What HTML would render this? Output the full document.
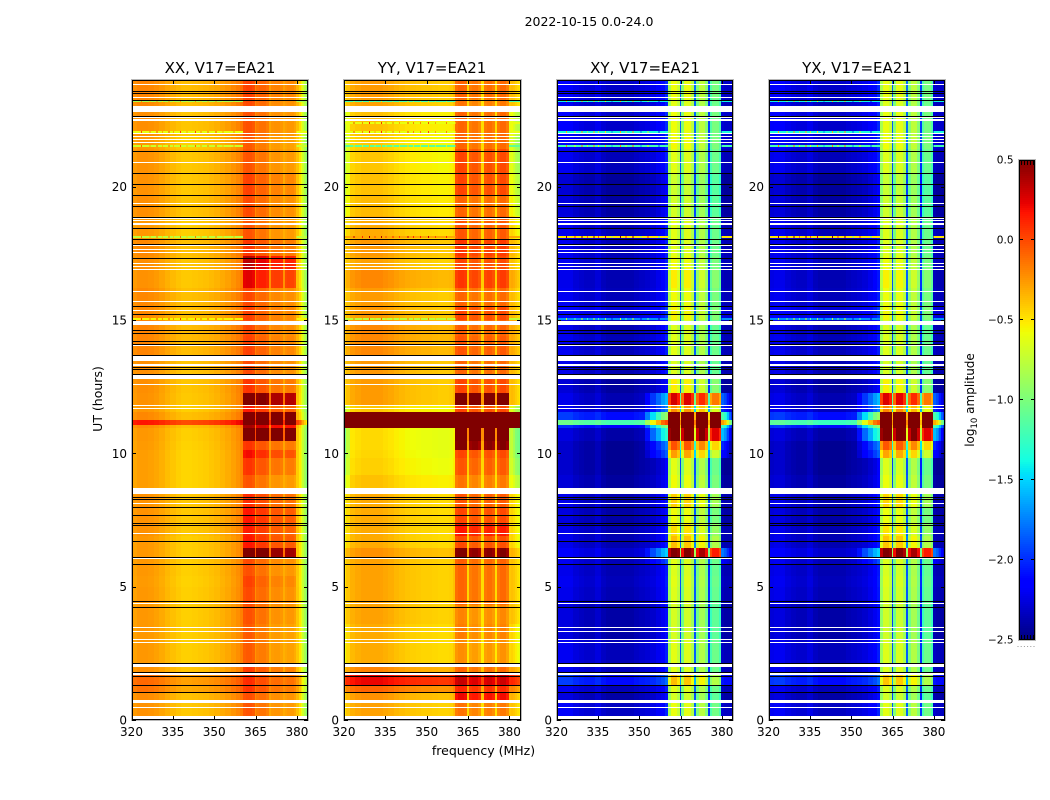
<!DOCTYPE html>
<html lang="en">
<head>
<meta charset="utf-8">
<title>2022-10-15 0.0-24.0</title>
<style>
html,body{margin:0;padding:0;background:#fff;}
svg{display:block;font-family:"DejaVu Sans","Liberation Sans",sans-serif;fill:#000;}
</style>
</head>
<body>
<svg id="figure" xmlns="http://www.w3.org/2000/svg" width="1050" height="800" viewBox="0 0 1050 800">
  <text x="589" y="26" font-size="12.5" text-anchor="middle">2022-10-15 0.0-24.0</text>
  <g id="panel-xx"></g>
  <g id="panel-yy"></g>
  <g id="panel-xy"></g>
  <g id="panel-yx"></g>
  <text x="220" y="73" font-size="15" text-anchor="middle">XX, V17=EA21</text>
  <text x="432" y="73" font-size="15" text-anchor="middle">YY, V17=EA21</text>
  <text x="645" y="73" font-size="15" text-anchor="middle">XY, V17=EA21</text>
  <text x="857" y="73" font-size="15" text-anchor="middle">YX, V17=EA21</text>
  <text transform="translate(102,399) rotate(-90)" font-size="12.5" text-anchor="middle">UT (hours)</text>
  <text x="483.5" y="755" font-size="12.5" text-anchor="middle">frequency (MHz)</text>
  <g id="colorbar"></g>
  <text transform="translate(974,400) rotate(-90)" font-size="12" text-anchor="middle">log<tspan font-size="8.5" dy="3">10</tspan><tspan dy="-3"> amplitude</tspan></text>
</svg>
<script>
// Frequency channel edges (MHz) and time band edges (UT hours)
const freqEdges = [320,320.7,322,324,326,328,330,332,334,336,338,340,342,344,346,348,350,352,354,356,358,359.4,360.4,361.4,363.6,364.7,365.3,366.3,368.7,369.7,370.7,371.7,373.8,374.8,375.5,376.5,378.8,379.8,380.6,381.3,382,382.7,383.4,384];
const timeEdges = [0,0.65,1,1.3,1.7,2.13,3,3.6,4.3,5,5.4,5.85,6.13,6.45,6.9,7.4,8,8.5,9.2,9.82,10.12,10.45,10.95,11.06,11.26,11.55,11.8,12.25,12.95,13.7,14.4,15,15.5,16.2,16.9,17.4,18,18.9,19.7,20.5,21.4,21.9,22.8,23.3,24];
const rfiLow = 360.4;
const rfiHigh = 379.8;

// Typical log10 amplitude per frequency channel
const xxSpectrum = [-.36,-.28,-.25,-.25,-.26,-.28,-.31,-.35,-.38,-.41,-.43,-.43,-.42,-.41,-.4,-.38,-.36,-.33,-.3,-.26,-.22,-.18,-.07,-.05,-.08,-.24,-.18,-.16,-.2,-.32,-.27,-.26,-.28,-.33,-.3,-.28,-.32,-.4,-.5,-.6,-.72,-.85,-.98];
const yySpectrum = [-.5,-.4,-.33,-.3,-.28,-.28,-.28,-.28,-.3,-.32,-.35,-.37,-.39,-.4,-.41,-.42,-.42,-.43,-.44,-.44,-.43,-.38,-.22,-.18,-.2,-.48,-.27,-.24,-.3,-.5,-.25,-.22,-.27,-.5,-.25,-.2,-.27,-.4,-.38,-.4,-.44,-.48,-.52];
const xySpectrum = [-2.35,-2.3,-2.3,-2.3,-2.35,-2.38,-2.4,-2.4,-2.35,-2.42,-2.45,-2.45,-2.45,-2.45,-2.45,-2.42,-2.4,-2.38,-2.35,-2.3,-2.25,-2.15,-.98,-.72,-.85,-2,-1.1,-.74,-.92,-1.95,-1.1,-.9,-1.1,-2.1,-1.3,-1.15,-1.3,-2.42,-2.45,-2.45,-2.45,-2.45,-2.45];
const yxSpectrum = [-2.35,-2.32,-2.3,-2.3,-2.35,-2.38,-2.4,-2.4,-2.35,-2.42,-2.45,-2.45,-2.45,-2.45,-2.45,-2.42,-2.4,-2.38,-2.35,-2.3,-2.25,-2.15,-.98,-.74,-.85,-2,-1.1,-.76,-.92,-1.95,-1.1,-.9,-1.1,-2.1,-1.3,-1.15,-1.3,-2.42,-2.45,-2.45,-2.45,-2.45,-2.45];

// Per-band changes outside the RFI block
const xxBackground = [.02,.04,.12,.15,.03,0,0,0,0,-.01,0,0,0,0,.02,.02,.02,-.02,-.02,-.02,-.01,0,.04,.42,.05,0,.02,.03,.03,.06,.06,.05,.05,.02,.03,.05,0,.03,.02,.02,0,.03,.05,.06];
const yyBackground = [0,.05,.2,.5,.1,-.03,-.03,0,0,0,0,0,.05,-.03,-.03,-.03,-.03,-.1,-.15,-.17,-.18,-.18,1.2,1.2,1.2,-.12,.02,.02,.03,.08,.08,.03,.02,.08,0,.03,-.03,-.08,-.1,-.12,-.13,-.1,0,.02];
const xyBackground = [.12,.05,.1,.35,.1,.1,.05,.05,.08,.1,.08,.1,.15,.08,.08,.05,.08,.03,0,0,0,.05,.3,1.25,.35,.1,.08,.03,.08,.1,.08,.18,.1,.08,.1,.1,.1,.04,.02,.1,.16,.14,.1,.14];
const yxBackground = [.12,.05,.1,.35,.1,.1,.05,.05,.08,.1,.08,.1,.15,.08,.08,.05,.08,.03,0,0,0,.05,.35,1.2,.35,.1,.08,.03,.08,.1,.08,.18,.1,.08,.1,.1,.1,.04,.02,.1,.16,.14,.1,.14];

// Per-band changes inside the RFI block
const xxRfi = [0,-.05,.08,.12,.1,-.05,-.03,.03,.05,.08,.03,.05,.7,.22,.2,.22,.15,.02,.12,.25,.12,.85,.45,.95,.95,.2,.65,.12,.05,.08,.06,.08,.06,.3,.4,.12,.02,.05,.08,.02,0,.02,.05,.08];
const yyRfi = [.05,.4,.3,.3,.05,-.05,.02,0,.1,.1,.1,.12,.7,.18,.35,.2,.15,.05,.15,.2,.7,.95,1.2,1.2,1.2,.2,.85,.2,.1,.15,.12,.2,.1,.25,.2,.25,.15,.1,.2,.2,.1,.1,.05,.1];
const xyRfi = [.05,0,.1,0,.1,0,-.05,-.05,-.05,.05,0,.1,1.3,.35,.25,.15,.3,.15,.1,.45,.7,1.4,1.8,1.8,1.8,.5,1,.2,.05,.05,.05,.1,.15,.2,.15,.05,0,0,0,.05,0,.05,0,.05];
const yxRfi = [.05,0,.1,0,.1,0,-.05,-.05,-.05,.05,0,.1,1.3,.35,.25,.15,.3,.15,.1,.45,.7,1.4,1.8,1.8,1.8,.55,1,.2,.05,.05,.05,.1,.15,.2,.15,.05,0,0,0,.05,0,.05,0,.05];

// Leakage around the RFI block in the cross hands, per band
const crossGlow = [0,0,0,0,0,0,0,0,0,0,0,.15,.5,0,0,0,0,0,0,.3,.4,.8,.9,.9,.9,.3,.5,0,0,0,0,0,0,0,0,0,0,0,0,0,0,0,0,0];
const glowChannels = [0,0,0,0,0,0,0,0,0,0,0,0,0,0,0,0,0,.3,.6,.8,1,1,0,0,0,.6,0,0,0,.6,0,0,0,.6,0,0,0,1,.9,.8,.6,.3,.1];

// Channel response to band changes
const autoGapResponse = [1,1,1,.3,1,1,1,.3,1,1,1,.3,1,1,1];
const crossGapResponse = [1,1,1,.6,1,1,1,.6,1,1,1,.6,1,1,1];
const yyEdgeResponse = [3,2,1,1,1,1,1,1,1,1,1,1,1,1,1,1,1,1,1,1,1,1,1,1,1,1,1,1,1,1,1,1,1,1,1,1,1,2,2,2.5,3,3,3];

// Narrow interference scans: hour, per-panel base level, spike heights
const spikeHours = [15.03,18.12,21.52,22.04,22.37,23.2];
const xxSpikeBase = [-.55,-.75,-.7,-.6,null,-.85];
const yySpikeBase = [-.75,-.3,-1.1,-.6,-.6,-1.2];
const xySpikeBase = [-1.7,-.5,-1.2,-1.35,null,-1.4];
const yxSpikeBase = [-1.7,-.5,-1.2,-1.35,null,-1.4];
const spikeFreqs = [323.5,326.5,329,331,333.5,335,337.5,340,343,345,347.5,350.5,353,357];
const xxSpikeHeights = [.6,.4,.6,.3,.6,.3,.6,.3,.6,.4,.5,.6,.3,.4];
const yySpikeHeights = [.6,.4,.7,.3,.7,.3,.4,.3,.6,.4,.4,.6,.3,.4];
const xySpikeHeights = [1,.6,1.1,.4,1,.5,.8,-.4,1,.6,1.1,-.5,.6,-.7];
const yxSpikeHeights = [1,.6,1.1,.4,1,.5,.8,-.4,1,.6,1.1,-.5,.6,-.7];

// Flagged (white) scans [start, end] and black separator scans, UT hours
const flaggedScans = [[23.82,23.86],[23.33,23.37],[22.81,23.04],[22.57,22.61],[22.48,22.52],[21.98,22.02],[21.87,21.91],[21.76,21.8],[21.64,21.68],[20.89,20.93],[19.36,19.4],[18.79,18.83],[18.7,18.74],[18.58,18.62],[17.77,17.81],[17.63,17.67],[17.52,17.56],[17.11,17.15],[16.98,17.02],[16.89,16.93],[16.04,16.08],[15.67,15.71],[15.34,15.38],[14.81,14.97],[14.03,14.07],[13.46,13.65],[13.28,13.35],[12.79,12.94],[12.57,12.61],[11.77,11.81],[11.67,11.71],[8.48,8.7],[8.11,8.15],[6.98,7.02],[6.03,6.08],[4.36,4.4],[3.46,3.5],[3.31,3.35],[3.01,3.05],[2.89,2.93],[2,2.09],[1.69,1.75],[.63,.75],[.46,.5],[0,.15]];
const blackScans = [23.6,23.52,23.24,22.64,21.33,20.5,20.09,19.68,19.26,18.85,18.44,18.02,17.84,17.31,15.51,15.21,14.63,14.5,14.22,14.09,13.68,13.25,13.17,12.97,8.37,8.28,7.98,7.68,7.38,7.3,6.7,6.1,5.84,4.45,4.22,2.13,1.79,1.66,1.3,1.04];

// Axis ticks
const xTickValues = [320,335,350,365,380];
const yTickValues = [0,5,10,15,20];
const colorbarTickValues = [-2.5,-2,-1.5,-1,-.5,0,.5];
const colorbarTickLabels = ['\u22122.5','\u22122.0','\u22121.5','\u22121.0','\u22120.5','0.0','0.5'];

const SVGNS = 'http://www.w3.org/2000/svg';
const plotTop = 80, plotBottom = 720, plotWidth = 176.5;
const freqMin = 320, freqMax = 384, hourMax = 24;
const colorMin = -2.5, colorMax = 0.5;

function make(tag, parent, attrs) {
  const el = document.createElementNS(SVGNS, tag);
  for (const k in attrs) el.setAttribute(k, attrs[k]);
  parent.appendChild(el);
  return el;
}
function ramp(stops, t) {
  for (let i = 1; i < stops.length; i++) {
    if (t <= stops[i][0]) {
      const a = stops[i - 1], b = stops[i];
      return a[1] + (b[1] - a[1]) * (t - a[0]) / (b[0] - a[0]);
    }
  }
  return stops[stops.length - 1][1];
}
function jet(v) {
  const t = Math.max(0, Math.min(1, (v - colorMin) / (colorMax - colorMin)));
  const r = ramp([[0,0],[.35,0],[.66,1],[.89,1],[1,.5]], t);
  const g = ramp([[0,0],[.125,0],[.375,1],[.64,1],[.91,0],[1,0]], t);
  const b = ramp([[0,.5],[.11,1],[.34,1],[.65,0],[1,0]], t);
  return 'rgb(' + Math.round(r * 255) + ',' + Math.round(g * 255) + ',' + Math.round(b * 255) + ')';
}
function yScale(hour) {
  return plotBottom - (hour / hourMax) * (plotBottom - plotTop);
}
function xScale(left, freq) {
  return left + ((freq - freqMin) / (freqMax - freqMin)) * plotWidth;
}
function cellValue(p, t, c) {
  const mid = (freqEdges[c] + freqEdges[c + 1]) / 2;
  let v = p.spectrum[c];
  const bg = p.background[t];
  if (mid > rfiLow && mid < rfiHigh) {
    v += Math.max(p.rfi[t] * p.gap[c - 22], bg);
  } else {
    v += p.edge && bg < 0 ? bg * p.edge[c] : bg;
  }
  if (p.glow) v += p.glow[t] * glowChannels[c];
  return v;
}

function drawPanel(p) {
  const g = document.getElementById(p.id);
  const L = p.left;
  const R = L + plotWidth;
  const cells = make('g', g, {'shape-rendering': 'crispEdges'});
  
  
  for (let t = 0; t < timeEdges.length - 1; t++) {
    const y1 = Math.round(yScale(timeEdges[t + 1]));
    const y0 = Math.round(yScale(timeEdges[t]));
    for (let c = 0; c < freqEdges.length - 1; c++) {
      const x0 = Math.round(xScale(L, freqEdges[c]));
      const x1 = Math.round(xScale(L, freqEdges[c + 1]));
      const cell = make('rect', cells, {x: x0, y: y1, width: x1 - x0, height: y0 - y1, fill: jet(cellValue(p, t, c))});
      
      
    }
  }
  // narrow interference scans
  spikeHours.forEach(function (h, i) {
    const base = p.spikeBase[i];
    if (base === null) return;
    const y = Math.round(yScale(h)) - 1;
    const left = make('rect', cells, {x: L, y: y, width: xScale(L, rfiLow) - L, height: 2, fill: jet(base)});
    
    
    const right = make('rect', cells, {x: xScale(L, rfiHigh), y: y, width: R - xScale(L, rfiHigh), height: 2, fill: jet(base)});
    
    
    spikeFreqs.forEach(function (f, k) {
      const s = make('rect', cells, {x: xScale(L, f), y: y, width: 1, height: 2, fill: jet(base + p.spikes[k])});
      
      
    });
  });
  // flagged white scans
  flaggedScans.forEach(function (f) {
    const y = Math.round(yScale(f[1]));
    const h = Math.max(1, Math.round(yScale(f[0])) - y);
    const r = make('rect', cells, {x: L, y: y, width: plotWidth, height: h, fill: '#fff'});
    
    
  });
  // black separator scans
  blackScans.forEach(function (hour) {
    const r = make('rect', cells, {x: L, y: Math.round(yScale(hour)), width: plotWidth, height: 1, fill: '#000'});
    
    
  });
  // frame
  const fx = Math.round(L), fr = Math.round(R);
  const halo = make('rect', g, {x: fx - .5, y: plotTop - .5, width: fr - fx + 1, height: plotBottom - plotTop + 1, fill: 'none', stroke: '#b8b8b8', 'stroke-width': 1, 'shape-rendering': 'crispEdges'});
  
  
  const frame = make('rect', g, {x: fx + .5, y: plotTop + .5, width: fr - fx - 1, height: plotBottom - plotTop - 1, fill: 'none', stroke: '#000', 'stroke-width': 1, 'shape-rendering': 'crispEdges'});
  
  
  // ticks
  xTickValues.forEach(function (v) {
    const x = Math.round(xScale(L, v)) + .5;
    const top = make('line', g, {x1: x, x2: x, y1: plotTop, y2: plotTop + 4, stroke: '#000', 'stroke-width': 1});
    
    
    const bottom = make('line', g, {x1: x, x2: x, y1: plotBottom, y2: plotBottom - 4, stroke: '#000', 'stroke-width': 1});
    
    
    const label = make('text', g, {x: xScale(L, v), y: plotBottom + 16, 'font-size': 12, 'text-anchor': 'middle'});
    
    
    label.textContent = v;
  });
  yTickValues.forEach(function (v) {
    const y = Math.round(yScale(v)) + .5;
    const left = make('line', g, {x1: fx, x2: fx + 4, y1: y, y2: y, stroke: '#000', 'stroke-width': 1});
    
    
    const right = make('line', g, {x1: fr, x2: fr - 4, y1: y, y2: y, stroke: '#000', 'stroke-width': 1});
    
    
    const label = make('text', g, {x: fx - 5, y: yScale(v) + 4.5, 'font-size': 12, 'text-anchor': 'end'});
    
    
    label.textContent = v;
  });
}

const panels = [
  {id: 'panel-xx', left: 131.5, spectrum: xxSpectrum, background: xxBackground, rfi: xxRfi, gap: autoGapResponse, spikeBase: xxSpikeBase, spikes: xxSpikeHeights},
  {id: 'panel-yy', left: 344, spectrum: yySpectrum, background: yyBackground, rfi: yyRfi, gap: autoGapResponse, edge: yyEdgeResponse, spikeBase: yySpikeBase, spikes: yySpikeHeights},
  {id: 'panel-xy', left: 556.5, spectrum: xySpectrum, background: xyBackground, rfi: xyRfi, gap: crossGapResponse, glow: crossGlow, spikeBase: xySpikeBase, spikes: xySpikeHeights},
  {id: 'panel-yx', left: 768.5, spectrum: yxSpectrum, background: yxBackground, rfi: yxRfi, gap: crossGapResponse, glow: crossGlow, spikeBase: yxSpikeBase, spikes: yxSpikeHeights}
];
panels.forEach(drawPanel);

// Colorbar
(function () {
  const g = document.getElementById('colorbar');
  const cbLeft = 1019, cbRight = 1035, cbTop = 160, cbBottom = 640;
  const cbY = function (v) { return cbBottom - (v - colorMin) / (colorMax - colorMin) * (cbBottom - cbTop); };
  const steps = 240;
  for (let i = 0; i < steps; i++) {
    const v = colorMin + (i + .5) * (colorMax - colorMin) / steps;
    const y1 = Math.round(cbY(colorMin + (i + 1) * (colorMax - colorMin) / steps));
    const seg = make('rect', g, {x: cbLeft, y: y1, width: cbRight - cbLeft, height: 2, fill: jet(v), 'shape-rendering': 'crispEdges'});
    
    
  }
  const halo = make('rect', g, {x: cbLeft - .5, y: cbTop - .5, width: cbRight - cbLeft + 1, height: cbBottom - cbTop + 1, fill: 'none', stroke: '#b8b8b8', 'shape-rendering': 'crispEdges'});
  
  
  const frame = make('rect', g, {x: cbLeft + .5, y: cbTop + .5, width: cbRight - cbLeft - 1, height: cbBottom - cbTop - 1, fill: 'none', stroke: '#000', 'shape-rendering': 'crispEdges'});
  
  
  colorbarTickValues.forEach(function (v, i) {
    const y = Math.round(cbY(v)) + (v === colorMax ? .5 : -.5);
    const a = make('line', g, {x1: cbLeft, x2: cbLeft + 4, y1: y, y2: y, stroke: '#000'});
    
    
    const b = make('line', g, {x1: cbRight, x2: cbRight - 4, y1: y, y2: y, stroke: '#000'});
    
    
    const label = make('text', g, {x: 1013.5, y: cbY(v) + 3.5, 'font-size': 10.5, 'text-anchor': 'end'});
    
    
    label.textContent = colorbarTickLabels[i];
  });
  for (let k = 0; k < 5; k++) {
    const x = cbLeft + 2.5 + k * 3;
    const up = make('line', g, {x1: x, x2: x, y1: cbTop, y2: cbTop + 5, stroke: '#000'});
    
    
    const down = make('line', g, {x1: x, x2: x, y1: cbBottom, y2: cbBottom - 5, stroke: '#000'});
    
    
  }
  for (let k = 0; k < 6; k++) {
    const dot = make('rect', g, {x: 1017.5 + k * 3.2, y: 646, width: 1, height: 1, fill: '#999'});
    
    
  }
})();
</script>
</body>
</html>
